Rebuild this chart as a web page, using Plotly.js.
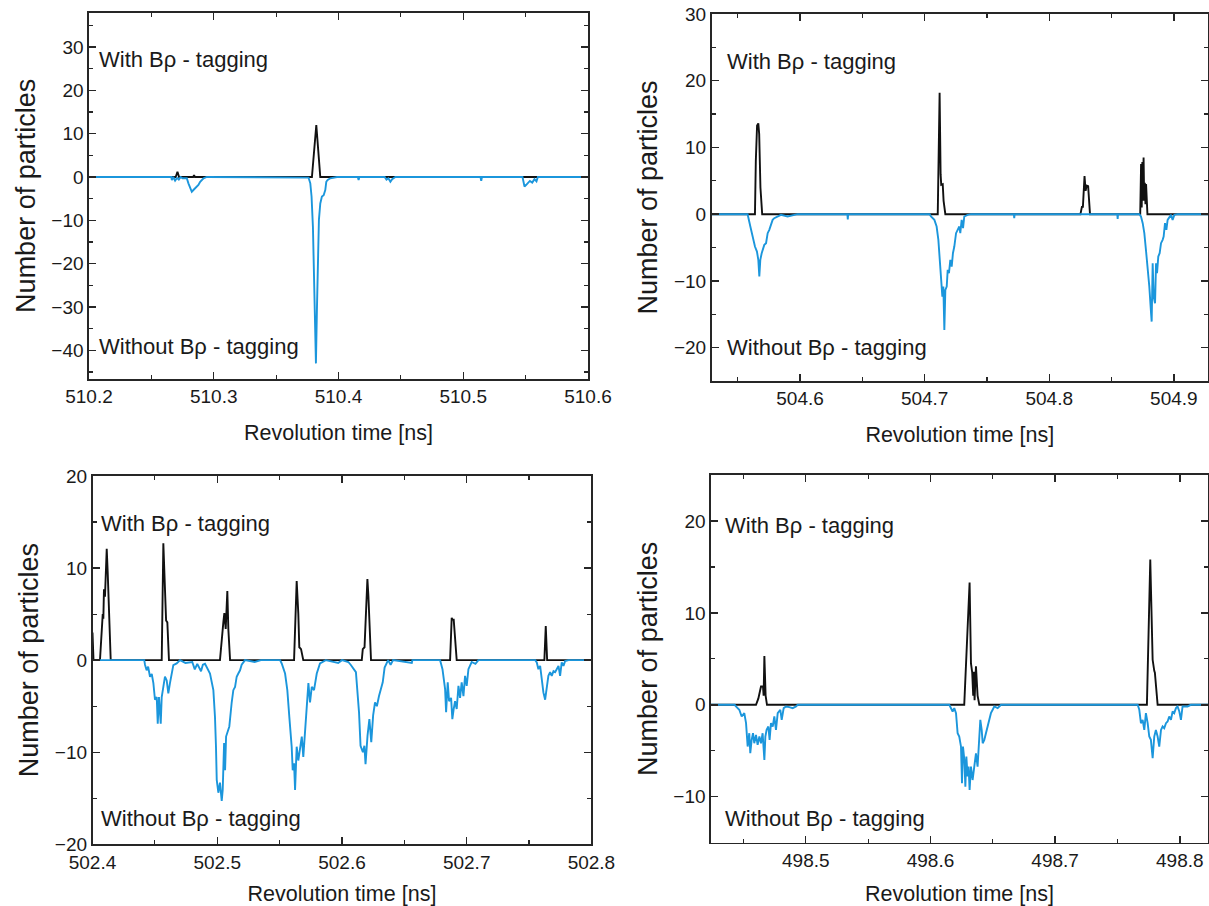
<!DOCTYPE html>
<html>
<head>
<meta charset="utf-8">
<script src="https://cdn.plot.ly/plotly-3.0.1.min.js"></script>
<style>html,body{margin:0;padding:0;background:#fff;}#chart{width:1209px;height:906px;}</style>
</head>
<body>
<div id="chart"></div>
<script>
// ---------- Panel 1 (510.2 - 510.6 ns) ----------
const p1WithT = [510.2, 510.2695, 510.2709, 510.2722, 510.2835, 510.2842, 510.2849, 510.3787, 510.3822, 510.3854, 510.6];
const p1WithV = [0, 0, 1.2, 0, 0, 0.4, 0, 0, 12.0, 0, 0];
const p1WithoutT = [510.2, 510.2660, 510.2664, 510.2675, 510.2690, 510.2705, 510.2720, 510.2735, 510.2750, 510.2784,
  510.2797, 510.2811, 510.2824, 510.2837, 510.2851, 510.2864, 510.2877, 510.2891, 510.2918, 510.2944,
  510.3760, 510.3774, 510.3784, 510.3795, 510.3803, 510.3811, 510.3819, 510.3827, 510.3835, 510.3843,
  510.3854, 510.3867, 510.3881, 510.3894, 510.3902, 510.3913, 510.3934, 510.3988,
  510.4155, 510.4161, 510.4167, 510.4370, 510.4385, 510.4400, 510.4416, 510.4430, 510.4456,
  510.5138, 510.5144, 510.5150, 510.5475, 510.5491, 510.5505, 510.5518, 510.5534, 510.5553, 510.5571,
  510.5587, 510.5598, 510.6];
const p1WithoutV = [0, 0, -0.7, 0, -0.85, -0.2, -0.6, 0, -0.3, -0.3,
  -1.46, -2.6, -3.4, -3.0, -2.6, -2.2, -1.85, -1.1, -0.3, 0,
  -0.15, -1.46, -4.5, -11.5, -23.0, -34.5, -43.0, -30.7, -19.1, -9.9,
  -6.1, -4.5, -4.2, -3.0, -1.1, -0.7, -0.3, 0,
  0, -0.7, 0, 0, -0.6, -0.3, -1.1, -0.5, 0,
  0, -0.9, 0, 0, -2.2, -1.8, -1.3, -0.9, -1.3, -0.5,
  -1.0, 0, 0];

// ---------- Panel 2 (504.53 - 504.93 ns) ----------
const p2WithT = [504.529, 504.5638, 504.5645, 504.5655, 504.5665, 504.5672, 504.5682, 504.5696,
  504.7105, 504.7120, 504.7128, 504.7133, 504.7145, 504.7152, 504.7166,
  504.8250, 504.8262, 504.8270, 504.8283, 504.8292, 504.8300, 504.8312, 504.8327,
  504.8730, 504.8737, 504.8742, 504.8747, 504.8752, 504.8757, 504.8762, 504.8767, 504.8772, 504.8777, 504.8788,
  504.9274];
const p2WithV = [0, 0, 8, 13.3, 13.6, 12, 4, 0,
  0, 18.2, 6, 4.4, 4.5, 2, 0,
  0, 1.1, 1.1, 5.7, 3.5, 4.3, 4.2, 0,
  0, 7.5, 1, 7.8, 2, 8.5, 2, 4.7, 1.5, 4.5, 0,
  0];
const p2WithoutT = [504.529, 504.5579, 504.5601, 504.5620, 504.5638, 504.5654, 504.5665, 504.5673, 504.5681, 504.5692,
  504.5700, 504.5713, 504.5727, 504.5740, 504.5753, 504.5767, 504.5780, 504.5793, 504.5820, 504.5847,
  504.5900, 504.5941, 504.5981, 504.6380, 504.6383, 504.6386,
  504.7040, 504.7051, 504.7078, 504.7096, 504.7110, 504.7120, 504.7131, 504.7142, 504.7150, 504.7158,
  504.7166, 504.7177, 504.7185, 504.7195, 504.7206, 504.7217, 504.7227, 504.7238, 504.7252, 504.7265,
  504.7278, 504.7286, 504.7297, 504.7308, 504.7318, 504.7345, 504.7372,
  504.7716, 504.7719, 504.7722, 504.8546, 504.8549, 504.8552,
  504.8723, 504.8736, 504.8750, 504.8763, 504.8776, 504.8790, 504.8803, 504.8817, 504.8822, 504.8830,
  504.8838, 504.8849, 504.8857, 504.8865, 504.8875, 504.8886, 504.8897, 504.8910, 504.8918, 504.8929,
  504.8940, 504.8950, 504.8964, 504.8977, 504.8990, 504.9004, 504.9031, 504.9274];
const p2WithoutV = [0, 0, -1.85, -3.35, -4.85, -5.6, -6.85, -9.35, -6.85, -5.85,
  -5.35, -4.6, -4.35, -2.85, -2.35, -1.35, -0.85, -0.6, -0.35, -0.1,
  -0.35, -0.2, 0, 0, -0.8, 0,
  0, -0.35, -0.85, -1.85, -3.85, -6.35, -9.85, -12.35, -10.85, -17.35,
  -11.35, -10.85, -8.35, -8.85, -6.85, -7.85, -5.85, -4.85, -2.85, -2.35,
  -1.85, -2.85, -0.85, -2.1, -0.35, -0.1, 0,
  0, -0.6, 0, 0, -0.7, 0,
  0, -0.35, -1.35, -2.85, -5.35, -7.85, -10.85, -14.85, -16.1, -7.35,
  -12.35, -13.35, -7.35, -8.85, -6.35, -5.85, -4.35, -3.85, -3.35, -1.35,
  -2.35, -0.85, -0.35, -0.1, -0.85, -0.1, 0, 0];

// ---------- Panel 3 (502.4 - 502.8 ns) ----------
const p3WithT = [502.4, 502.4008, 502.4060, 502.4074, 502.4082, 502.4087, 502.4092, 502.4100, 502.4114, 502.4122, 502.4146,
  502.4555, 502.4568, 502.4590, 502.4600, 502.4613,
  502.5022, 502.5049, 502.5057, 502.5068, 502.5081, 502.5089, 502.5103,
  502.5616, 502.5632, 502.5637, 502.5650, 502.5658, 502.5672, 502.5690,
  502.6159, 502.6167, 502.6181, 502.6194, 502.6204, 502.6212, 502.6223, 502.6233,
  502.6867, 502.6880, 502.6885, 502.6896, 502.6907, 502.6920,
  502.7623, 502.7634, 502.7645, 502.8];
const p3WithV = [3.0, 0, 0, 4.1, 5.0, 4.5, 7.7, 6.9, 12.1, 9.5, 0,
  0, 12.7, 4.3, 4.1, 0,
  0, 4.1, 5.1, 3.4, 7.5, 3.4, 0,
  0, 8.1, 8.6, 5.1, 1.4, 1.2, 0,
  0, 1.2, 1.4, 7.0, 8.8, 7.0, 2.6, 0,
  0, 4.6, 4.4, 4.4, 2.3, 0,
  0, 3.7, 0, 0];
const p3WithoutT = [502.4, 502.4415, 502.4421, 502.4434, 502.4446, 502.4461, 502.4475, 502.4488, 502.4501, 502.4515,
  502.4523, 502.4533, 502.4547, 502.4555, 502.4568, 502.4581, 502.4595, 502.4608, 502.4621, 502.4635,
  502.4648, 502.4675, 502.4702, 502.4745, 502.4800, 502.4820, 502.4840, 502.4870, 502.4885,
  502.4902, 502.4916, 502.4942, 502.4969, 502.4982, 502.4990, 502.4996, 502.5009, 502.5022, 502.5036,
  502.5044, 502.5055, 502.5063, 502.5071, 502.5081, 502.5097, 502.5116, 502.5129, 502.5143, 502.5156,
  502.5169, 502.5183, 502.5196, 502.5209, 502.5223, 502.5300, 502.5350,
  502.5504, 502.5517, 502.5544, 502.5562, 502.5578, 502.5589, 502.5597, 502.5605, 502.5616, 502.5624,
  502.5637, 502.5650, 502.5664, 502.5678, 502.5690, 502.5704, 502.5718, 502.5731, 502.5744, 502.5758,
  502.5776, 502.5798, 502.5824, 502.5851, 502.5870, 502.5970, 502.6000,
  502.6051, 502.6070, 502.6112, 502.6137, 502.6149, 502.6168, 502.6180, 502.6189, 502.6205, 502.6220,
  502.6235, 502.6250, 502.6265, 502.6280, 502.6297, 502.6312, 502.6327, 502.6342, 502.6358, 502.6370,
  502.6390, 502.6410, 502.6560, 502.6565,
  502.6787, 502.6806, 502.6827, 502.6835, 502.6848, 502.6859, 502.6875, 502.6885, 502.6896, 502.6907,
  502.6920, 502.6934, 502.6947, 502.6960, 502.6974, 502.6987, 502.7000, 502.7014, 502.7040, 502.7070,
  502.7094, 502.7550,
  502.7562, 502.7575, 502.7589, 502.7602, 502.7615, 502.7629, 502.7642, 502.7655, 502.7669, 502.7682,
  502.7696, 502.7709, 502.7722, 502.7736, 502.7749, 502.7762, 502.7776, 502.7789, 502.7816, 502.8];
const p3WithoutV = [0, 0, -0.5, -1.1, -0.7, -1.8, -1.5, -2.5, -4.3, -4.0,
  -6.9, -4.0, -6.9, -4.0, -2.9, -1.8, -2.2, -3.6, -2.5, -1.45,
  -0.54, -0.36, 0, -0.3, -0.2, -1.0, -0.4, -1.2, -0.5,
  -0.4, -0.72, -1.45, -3.26, -6.16, -9.4, -13.0, -14.4, -13.3, -15.3,
  -14.1, -9.0, -11.96, -8.3, -7.9, -7.2, -4.6, -3.26, -2.9, -1.8,
  -1.45, -1.1, -0.5, -0.2, 0, -0.2, 0,
  0, -0.36, -1.45, -3.26, -6.16, -7.6, -9.4, -11.96, -11.2, -14.1,
  -9.4, -10.9, -9.8, -8.3, -10.5, -7.6, -4.6, -2.5, -4.6, -2.9,
  -3.26, -1.45, -0.36, -0.2, 0, -0.3, 0,
  -0.2, -0.5, -1.3, -5.7, -9.3, -10.0, -9.3, -11.3, -8.2, -6.4,
  -8.9, -6.0, -4.6, -5.0, -3.9, -3.2, -2.4, -0.8, -0.3, 0,
  -0.5, 0, -0.3, 0,
  0, -0.98, -3.15, -5.65, -2.4, -4.46, -4.1, -6.4, -5.3, -4.46,
  -5.3, -2.8, -4.1, -2.4, -3.9, -1.7, -2.8, -0.98, -0.2, -0.4,
  0, 0,
  -0.25, -0.98, -0.62, -2.07, -3.5, -4.3, -3.15, -1.7, -1.3, -1.7,
  -1.2, -1.3, -0.98, -0.62, -1.7, -0.25, -0.62, -0.1, 0, 0];

// ---------- Panel 4 (498.42 - 498.82 ns) ----------
const p4WithT = [498.424, 498.4601, 498.4620, 498.4641, 498.4657, 498.4662, 498.4668, 498.4678, 498.4689,
  498.6271, 498.6314, 498.6325, 498.6335, 498.6343, 498.6348, 498.6354, 498.6365, 498.6378, 498.6392,
  498.7736, 498.7763, 498.7772, 498.7782, 498.7795, 498.7800, 498.7822, 498.8226];
const p4WithV = [0, 0, 0.7, 2.0, 2.0, 1.0, 5.3, 1.0, 0,
  0, 13.3, 4.5, 3.5, 1.0, 3.6, 0.5, 4.2, 1.0, 0,
  0, 15.8, 9.0, 4.9, 3.7, 3.5, 0, 0];
const p4WithoutT = [498.424, 498.4430, 498.4440, 498.4467, 498.4486, 498.4507, 498.4521, 498.4534, 498.4547, 498.4555,
  498.4566, 498.4577, 498.4587, 498.4601, 498.4614, 498.4628, 498.4641, 498.4654, 498.4668, 498.4676,
  498.4686, 498.4700, 498.4710, 498.4721, 498.4735, 498.4748, 498.4761, 498.4775, 498.4796, 498.4807,
  498.4823, 498.4841, 498.4868, 498.4895, 498.4922, 498.4935,
  498.6151, 498.6165, 498.6178, 498.6191, 498.6205, 498.6218, 498.6231, 498.6245, 498.6253, 498.6261,
  498.6272, 498.6280, 498.6288, 498.6298, 498.6306, 498.6314, 498.6325, 498.6338, 498.6352, 498.6365,
  498.6378, 498.6392, 498.6400, 498.6411, 498.6419, 498.6432, 498.6445, 498.6459, 498.6472, 498.6485,
  498.6499, 498.6512, 498.6539, 498.6566,
  498.7662, 498.7675, 498.7688, 498.7702, 498.7715, 498.7728, 498.7742, 498.7755, 498.7768, 498.7782,
  498.7795, 498.7808, 498.7822, 498.7835, 498.7849, 498.7862, 498.7875, 498.7889, 498.7902, 498.7915,
  498.7929, 498.7942, 498.7955, 498.7969, 498.7982, 498.7996, 498.8009, 498.8022, 498.8062, 498.8089, 498.8226];
const p4WithoutV = [0, 0, -0.18, -0.54, -1.27, -0.91, -2.0, -4.54, -3.09, -5.27,
  -3.81, -3.09, -4.18, -3.27, -4.36, -3.45, -4.18, -3.09, -6.0, -3.45,
  -2.73, -2.36, -3.81, -2.0, -2.36, -1.27, -2.73, -0.91, -0.54, -1.64,
  -0.36, -0.18, -0.25, -0.36, -0.18, 0,
  0, -0.36, -0.73, -0.36, -0.91, -3.09, -3.45, -4.54, -8.54, -4.54,
  -6.0, -8.9, -5.63, -7.8, -6.72, -9.27, -6.72, -8.18, -6.72, -5.27,
  -6.72, -3.81, -1.64, -2.73, -4.18, -3.81, -3.09, -2.36, -1.64, -0.91,
  -0.54, -0.18, -0.36, 0,
  0, -0.54, -2.0, -1.64, -2.73, -0.91, -2.0, -3.45, -3.81, -5.81,
  -3.45, -2.73, -3.45, -4.54, -2.73, -2.36, -2.54, -2.0, -1.82, -1.27,
  -1.64, -0.73, -0.91, -0.36, -0.18, -0.73, -1.64, -0.18, -0.18, 0, 0];

// ---------- Axis settings ----------
const xRanges = [[510.2, 510.6], [504.529, 504.9274], [502.4, 502.8], [498.424, 498.8226]];
const yRanges = [[-46.6, 37.9], [-25, 30], [-20, 20], [-15, 25]];
const yDtick = [10, 10, 10, 10];
const xTitleText = 'Revolution time [ns]';
const yTitleText = 'Number of particles';
const withLabel = 'With B\u03C1 - tagging';
const withoutLabel = 'Without B\u03C1 - tagging';

const FONT = 'Liberation Sans, Arial, Helvetica, sans-serif';
const BLUE = '#1b96dc';
const BLACK = '#111111';
const AXC = '#262626';
const TXT = '#1a1a1a';

const panels = [
  {wt: p1WithT, wv: p1WithV, ot: p1WithoutT, ov: p1WithoutV},
  {wt: p2WithT, wv: p2WithV, ot: p2WithoutT, ov: p2WithoutV},
  {wt: p3WithT, wv: p3WithV, ot: p3WithoutT, ov: p3WithoutV},
  {wt: p4WithT, wv: p4WithV, ot: p4WithoutT, ov: p4WithoutV}
];

// domains in paper fraction (layout only)
const xDomains = [[0.07362, 0.48635], [0.58858, 0.99917], [0.07651, 0.48917], [0.58809, 0.99917]];
const yDomains = [[0.58168, 0.98598], [0.57947, 0.98455], [0.06810, 0.47461], [0.06987, 0.47572]];
const annPos = [
  {x: 0.0800, yw: 0.9338, yo: 0.6170},
  {x: 0.5998, yw: 0.9316, yo: 0.6159},
  {x: 0.0815, yw: 0.4227, yo: 0.0971},
  {x: 0.5981, yw: 0.4205, yo: 0.0971}
];

const data = [];
const layout = {
  width: 1209, height: 906,
  margin: {l: 0, r: 0, t: 0, b: 0},
  paper_bgcolor: '#ffffff', plot_bgcolor: '#ffffff',
  showlegend: false,
  font: {family: FONT, color: TXT},
  annotations: []
};

panels.forEach((p, i) => {
  const n = i === 0 ? '' : String(i + 1);
  const xa = 'x' + n, ya = 'y' + n;
  data.push({x: p.wt, y: p.wv, xaxis: xa, yaxis: ya, type: 'scatter', mode: 'lines',
    line: {color: BLACK, width: 1.9}, name: withLabel, hoverinfo: 'x+y'});
  data.push({x: p.ot, y: p.ov, xaxis: xa, yaxis: ya, type: 'scatter', mode: 'lines',
    line: {color: BLUE, width: 1.9}, name: withoutLabel, hoverinfo: 'x+y'});
  const common = {
    showgrid: false, zeroline: false, showline: true, linecolor: AXC, linewidth: 1.6,
    mirror: 'ticks', ticks: 'inside', ticklen: 7, tickwidth: 1.4, tickcolor: AXC,
    tickfont: {family: FONT, size: 19, color: TXT}
  };
  layout['xaxis' + n] = Object.assign({}, common, {
    domain: xDomains[i], range: xRanges[i], anchor: ya, dtick: 0.1, tick0: 0, tickformat: '.1f',
    minor: {dtick: 0.05, tick0: 0, ticks: 'inside', ticklen: 4, tickwidth: 1.2, tickcolor: AXC},
    title: {text: xTitleText, font: {family: FONT, size: 21.5, color: TXT}, standoff: 18}
  });
  layout['yaxis' + n] = Object.assign({}, common, {
    domain: yDomains[i], range: yRanges[i], anchor: xa, dtick: yDtick[i], tick0: 0,
    minor: {dtick: 5, tick0: 0, ticks: 'inside', ticklen: 4, tickwidth: 1.2, tickcolor: AXC},
    title: {text: yTitleText, font: {family: FONT, size: 27, color: TXT}, standoff: 8}
  });
  layout.annotations.push({xref: 'paper', yref: 'paper', x: annPos[i].x, y: annPos[i].yw,
    xanchor: 'left', yanchor: 'middle', showarrow: false, text: withLabel,
    font: {family: FONT, size: 22, color: TXT}});
  layout.annotations.push({xref: 'paper', yref: 'paper', x: annPos[i].x, y: annPos[i].yo,
    xanchor: 'left', yanchor: 'middle', showarrow: false, text: withoutLabel,
    font: {family: FONT, size: 22, color: TXT}});
});

Plotly.newPlot('chart', data, layout, {staticPlot: true, displayModeBar: false});
</script>
</body>
</html>
